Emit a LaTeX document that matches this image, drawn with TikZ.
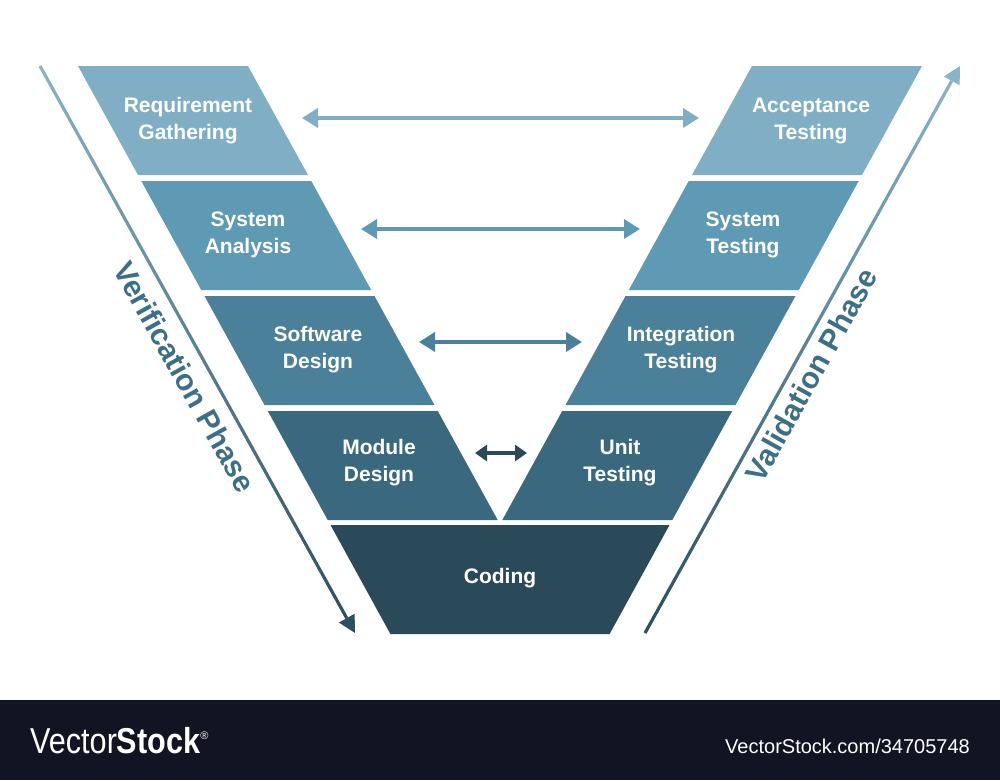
\documentclass[tikz,border=0pt]{standalone}
\usepackage{fontspec}
\setmainfont{Liberation Sans}
\usetikzlibrary{arrows.meta,calc}
\definecolor{rowA}{RGB}{128,175,197}
\definecolor{rowB}{RGB}{95,154,180}
\definecolor{rowC}{RGB}{74,128,153}
\definecolor{rowD}{RGB}{58,105,127}
\definecolor{codeC}{RGB}{43,74,89}
\definecolor{phaseC}{RGB}{61,111,135}
\definecolor{sideLight}{RGB}{135,180,201}
\definecolor{sideDark}{RGB}{45,80,96}
\definecolor{bandC}{RGB}{18,20,35}

\begin{document}
\begin{tikzpicture}[x=1pt, y=-1pt,
	blocktext/.style={text=white, align=center, inner sep=0pt, font=\fontsize{21}{27}\selectfont\bfseries},
	phase/.style={text=phaseC, inner sep=0pt, font=\fontsize{30}{34}\selectfont\bfseries},
	link/.style={line width=3.5pt, {Triangle[length=16pt,width=19pt]}-{Triangle[length=16pt,width=19pt]}},
	shortlink/.style={line width=4pt, {Triangle[length=12pt,width=16pt]}-{Triangle[length=12pt,width=16pt]}}]
	\useasboundingbox (0,0) rectangle (1000,780);
	\fill[white] (0,0) rectangle (1000,780);
	% Verification side:
	\fill[rowA] (78,66) -- (248,66) -- (308,175) -- (138,175) -- cycle;
	\fill[rowB] (141.3,181) -- (311.3,181) -- (371.2,290) -- (201.2,290) -- cycle;
	\fill[rowC] (204.5,296) -- (374.5,296) -- (434.5,405) -- (264.5,405) -- cycle;
	\fill[rowD] (267.8,411) -- (437.8,411) -- (497.7,520) -- (327.7,520) -- cycle;
	% Validation side:
	\fill[rowA] (752,66) -- (922,66) -- (862,175) -- (692,175) -- cycle;
	\fill[rowB] (688.7,181) -- (858.7,181) -- (798.8,290) -- (628.8,290) -- cycle;
	\fill[rowC] (625.5,296) -- (795.5,296) -- (735.5,405) -- (565.5,405) -- cycle;
	\fill[rowD] (562.2,411) -- (732.2,411) -- (672.3,520) -- (502.3,520) -- cycle;
	\fill[codeC] (330.5,525) -- (669.5,525) -- (609.6,634) -- (390.4,634) -- cycle;
	% Stage labels:
	\node[blocktext] (reqg) at (188,121) {Requirement\\Gathering};
	\node[blocktext] (sysa) at (248,235) {System\\Analysis};
	\node[blocktext] (swd) at (318,350) {Software\\Design};
	\node[blocktext] (modd) at (379,463) {Module\\Design};
	\node[blocktext] (acct) at (811,121) {Acceptance\\Testing};
	\node[blocktext] (syst) at (743,235) {System\\Testing};
	\node[blocktext] (intt) at (681,350) {Integration\\Testing};
	\node[blocktext] (unitt) at (620,463) {Unit\\Testing};
	\node[blocktext] (code) at (500,578) {Coding};
	% Links between the two sides:
	\coordinate (l1) at (302,118);
	\coordinate (r1) at (699,118);
	\coordinate (l2) at (361,229);
	\coordinate (r2) at (640,229);
	\coordinate (l3) at (419,342);
	\coordinate (r3) at (582,342);
	\coordinate (l4) at (475,453);
	\coordinate (r4) at (527,453);
	\draw[link, rowA] (l1) -- (r1);
	\draw[link, rowB] (l2) -- (r2);
	\draw[link, rowC] (l3) -- (r3);
	\draw[shortlink, codeC] (l4) -- (r4);
	% Phase arrows:
	\coordinate (vtop) at (40,66);
	\coordinate (vtip) at (355,633);
	\coordinate (vbase) at ($(vtip)!17pt!(vtop)$);
	\coordinate (lbot) at (645,633);
	\coordinate (ltip) at (960,66);
	\coordinate (lbase) at ($(ltip)!17pt!(lbot)$);
	\shade[top color=sideLight, bottom color=sideDark] ($(vtop)!1.6pt!90:(vtip)$) -- ($(vbase)!1.6pt!90:(vtip)$) -- ($(vbase)!1.6pt!-90:(vtip)$) -- ($(vtop)!1.6pt!-90:(vtip)$) -- cycle;
	\fill[sideDark] ($(vbase)!9pt!90:(vtip)$) -- (vtip) -- ($(vbase)!9pt!-90:(vtip)$) -- cycle;
	\shade[top color=sideLight, bottom color=sideDark] ($(lbot)!1.6pt!90:(ltip)$) -- ($(lbase)!1.6pt!90:(ltip)$) -- ($(lbase)!1.6pt!-90:(ltip)$) -- ($(lbot)!1.6pt!-90:(ltip)$) -- cycle;
	\fill[sideLight] ($(lbase)!9pt!90:(ltip)$) -- (ltip) -- ($(lbase)!9pt!-90:(ltip)$) -- cycle;
	\node[phase, rotate=-60.9] (verif) at (185,377) {Verification Phase};
	\node[phase, rotate=60.9] (valid) at (811,375) {Validation Phase};
	% Footer band:
	\fill[bandC] (0,700) rectangle (1000,780);
	\node[anchor=base west, text=white, inner sep=0pt, font=\fontsize{36}{36}\selectfont] (vslogo) at (30,753) {\scalebox{0.85}[1]{Vector\textbf{Stock}}\raisebox{14pt}{\fontsize{11}{11}\selectfont\textregistered}};
	\node[anchor=base east, text=white, inner sep=0pt, font=\fontsize{20}{20}\selectfont] (vsurl) at (970,753) {VectorStock.com/34705748};
\end{tikzpicture}
\end{document}
